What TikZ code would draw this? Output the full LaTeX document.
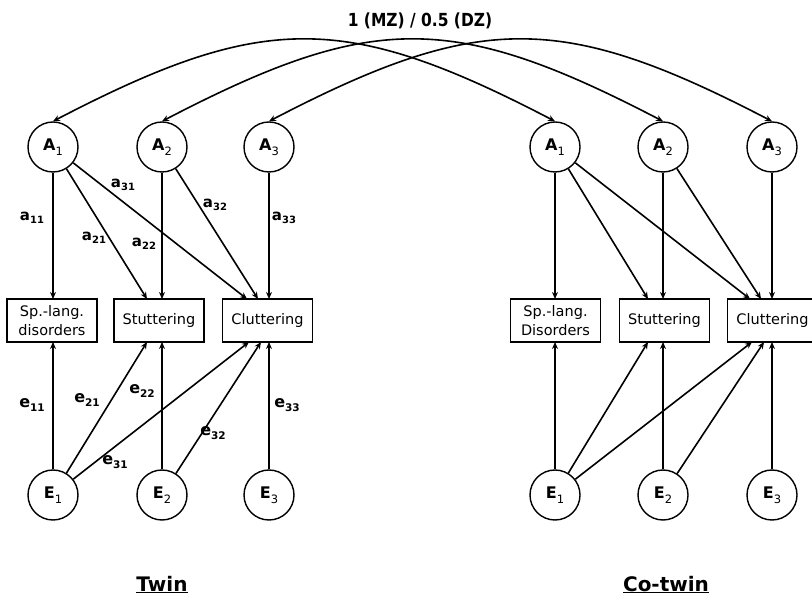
\documentclass[tikz,border=0pt]{standalone}
\usepackage{fontspec}
\setmainfont{DejaVu Sans}
\usetikzlibrary{arrows.meta,calc}
\newcommand\latlab[2]{\textbf{#1}\raisebox{-5pt}{\fontsize{11.5}{11.5}\selectfont #2}}
\newcommand\alab[1]{a\raisebox{-3.5pt}{\fontsize{10}{10}\selectfont #1}}
\newcommand\elab[1]{e\raisebox{-3.5pt}{\fontsize{10.5}{10.5}\selectfont #1}}
\begin{document}
\begin{tikzpicture}[x=1pt,y=-1pt,
  lat/.style={circle,draw,line width=1.4pt,minimum size=50pt,inner sep=0pt,font=\fontsize{16}{16}\selectfont},
  obs/.style={draw,line width=1.3pt,minimum width=90pt,minimum height=43pt,inner sep=0pt,align=center,font=\fontsize{14.5}{19}\selectfont},
  arr/.style={line width=1.6pt,-{Stealth[length=7pt,width=6pt]}},
  darr/.style={line width=1.6pt,{Stealth[length=7pt,width=6pt]}-{Stealth[length=7pt,width=6pt]}},
  albl/.style={font=\bfseries\fontsize{15}{15}\selectfont,inner sep=0pt},
  elbl/.style={font=\bfseries\fontsize{16}{16}\selectfont,inner sep=0pt},
  grp/.style={font=\bfseries\fontsize{20}{20}\selectfont,anchor=base,inner sep=0pt},
]
\useasboundingbox (0,0) rectangle (812,601);
\clip (0,0) rectangle (812,601);
\fill[white] (0,0) rectangle (812,601);

% title
\node[anchor=base,inner sep=0pt] (title) at (420,27) {\scalebox{0.86}[1]{\bfseries\fontsize{18}{18}\selectfont 1 (MZ) / 0.5 (DZ)}};

% latent A and E, twin
\foreach \n/\x in {1/53,2/162,3/269}{
  \node[lat] (LA\n) at (\x,147) {\latlab{A}{\n}};
  \node[lat] (LE\n) at (\x,495) {\latlab{E}{\n}};
}
% co-twin
\foreach \n/\x in {1/555,2/663,3/772}{
  \node[lat] (RA\n) at (\x,147) {\latlab{A}{\n}};
  \node[lat] (RE\n) at (\x,495) {\latlab{E}{\n}};
}

% observed boxes
\node[obs] (LB1) at (52,320.5) {Sp.-lang.\\disorders};
\node[obs] (LB2) at (159,320.5) {Stuttering};
\node[obs] (LB3) at (267.5,320.5) {Cluttering};
\node[obs] (RB1) at (555.5,320.5) {Sp.-lang.\\Disorders};
\node[obs] (RB2) at (664.5,320.5) {Stuttering};
\node[obs] (RB3) at (772.5,320.5) {Cluttering};

% paths for each side
\foreach \s/\xa/\xb/\xc in {L/53/162/269, R/555/663/772}{
  % targets on top edges
  \coordinate (\s t11) at (\xa,299);
  \coordinate (\s t21) at (\xb-15,299);
  \coordinate (\s t22) at (\xb,299);
  \coordinate (\s t31) at (\xc-22,299);
  \coordinate (\s t32) at (\xc-11,299);
  \coordinate (\s t33) at (\xc,299);
  % targets on bottom edges
  \coordinate (\s b11) at (\xa,342);
  \coordinate (\s b21) at (\xb-15,342);
  \coordinate (\s b22) at (\xb,342);
  \coordinate (\s b31) at (\xc-20,342);
  \coordinate (\s b32) at (\xc-8,342);
  \coordinate (\s b33) at (\xc,342);
  \draw[arr] (\s A1) -- (\s t11);
  \draw[arr] (\s A1) -- (\s t21);
  \draw[arr] (\s A2) -- (\s t22);
  \draw[arr] (\s A1) -- (\s t31);
  \draw[arr] (\s A2) -- (\s t32);
  \draw[arr] (\s A3) -- (\s t33);
  \draw[arr] (\s E1) -- (\s b11);
  \draw[arr] (\s E1) -- (\s b21);
  \draw[arr] (\s E2) -- (\s b22);
  \draw[arr] (\s E1) -- (\s b31);
  \draw[arr] (\s E2) -- (\s b32);
  \draw[arr] (\s E3) -- (\s b33);
}

% twin correlations
\draw[darr] (LA1.north) .. controls (263,12) and (345,12) .. (RA1.north);
\draw[darr] (LA2.north) .. controls (372,12) and (453,12) .. (RA2.north);
\draw[darr] (LA3.north) .. controls (479,12) and (562,12) .. (RA3.north);

% path labels
\node[albl] (a11) at (32,218) {\alab{11}};
\node[albl] (a21) at (94,238) {\alab{21}};
\node[albl] (a22) at (144,244) {\alab{22}};
\node[albl] (a31) at (123,185) {\alab{31}};
\node[albl] (a32) at (215,205) {\alab{32}};
\node[albl] (a33) at (284,218) {\alab{33}};
\node[elbl] (e11) at (32,405) {\elab{11}};
\node[elbl] (e21) at (87,400) {\elab{21}};
\node[elbl] (e22) at (142,391) {\elab{22}};
\node[elbl] (e31) at (115,462) {\elab{31}};
\node[elbl] (e32) at (213,433) {\elab{32}};
\node[elbl] (e33) at (287,405) {\elab{33}};

% group labels
\node[grp] (twin) at (162,591) {\underline{Twin}};
\node[grp] (cotwin) at (666,591) {\underline{Co-twin}};
\end{tikzpicture}
\end{document}
